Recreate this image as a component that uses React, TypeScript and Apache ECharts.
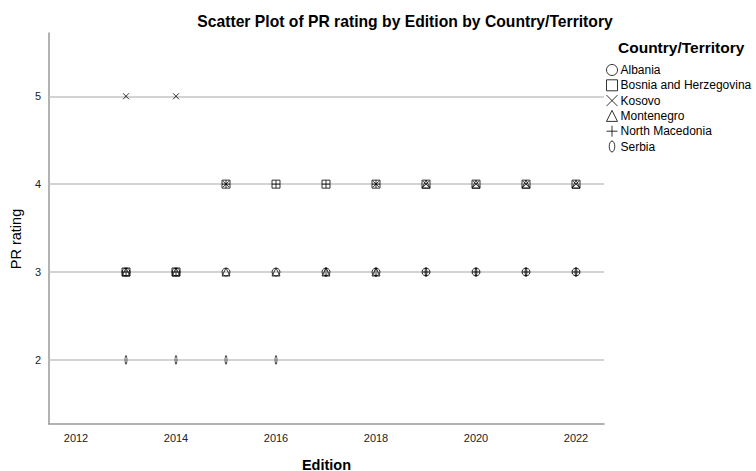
import React, { useEffect, useRef } from "react";
import * as echarts from "echarts";

const editions = [2013, 2014, 2015, 2016, 2017, 2018, 2019, 2020, 2021, 2022];
const albania = [3, 3, 3, 3, 3, 3, 3, 3, 3, 3];
const bosnia = [3, 3, 4, 4, 4, 4, 4, 4, 4, 4];
const kosovo = [5, 5, 4, null, null, 4, 4, 4, 4, 4];
const montenegro = [3, 3, 3, 3, 3, 3, 4, 4, 4, 4];
const northMacedonia = [3, 3, 4, 4, 4, 4, 3, 3, 3, 3];
const serbia = [2, 2, 2, 2, 3, 3, 3, 3, 3, 3];

const xTickLabels = [2012, 2014, 2016, 2018, 2020, 2022];
const yTickLabels = [2, 3, 4, 5];

const FONT = "Liberation Sans, Arial, sans-serif";

const pairs = (vals: (number | null)[]) =>
  editions.map((e, i) => [e, vals[i]]).filter((p) => p[1] !== null);

export default function App() {
  const ref = useRef<HTMLDivElement>(null);
  useEffect(() => {
    if (!ref.current) return;
    const chart = echarts.init(ref.current, null, { renderer: "svg" });
    const base = {
      type: "scatter",
      z: 5,
      symbolKeepAspect: true,
      itemStyle: { color: "rgba(0,0,0,0)", borderColor: "#000", borderWidth: 1 },
      emphasis: { disabled: true },
    };
    const seriesDefs = [
      { name: "Albania", data: albania, symbol: "circle", size: 8 },
      { name: "Bosnia and Herzegovina", data: bosnia, symbol: "rect", size: 8 },
      { name: "Kosovo", data: kosovo, symbol: "path://M0,0L10,10M10,0L0,10", size: 6 },
      { name: "Montenegro", data: montenegro, symbol: "triangle", size: 8 },
      { name: "North Macedonia", data: northMacedonia, symbol: "path://M5,0L5,10M0,5L10,5", size: 8 },
      {
        name: "Serbia",
        data: serbia,
        symbol: "path://M3,0A3,6 0 1,0 3,12A3,6 0 1,0 3,0Z",
        size: [4, 8],
      },
    ];
    const series: any[] = seriesDefs.map((s) => ({
      ...base,
      name: s.name,
      symbol: s.symbol,
      symbolSize: s.size,
      data: pairs(s.data),
    }));
    series.push({
      type: "scatter",
      name: "grid",
      data: [],
      silent: true,
      z: 1,
      markLine: {
        silent: true,
        symbol: "none",
        label: { show: false },
        lineStyle: { color: "#c4c4c4", width: 1.5, type: "solid" },
        data: yTickLabels.map((v) => ({ yAxis: v })),
      },
    });
    chart.setOption({
      animation: false,
      backgroundColor: "#fff",
      textStyle: { fontFamily: FONT },
      title: [
        {
          text: "Scatter Plot of PR rating by Edition by Country/Territory",
          left: 400,
          top: 8,
          textAlign: "center",
          textStyle: { fontFamily: FONT, fontSize: 15.7, fontWeight: "bold", color: "#000" },
        },
        {
          text: "Country/Territory",
          left: 613,
          top: 34,
          textStyle: { fontFamily: FONT, fontSize: 15.5, fontWeight: "bold", color: "#000" },
        },
      ],
      legend: {
        orient: "vertical",
        left: 601,
        top: 59,
        padding: [5, 5, 5, 5],
        itemWidth: 11,
        itemHeight: 11,
        itemGap: 3.3,
        itemStyle: { color: "rgba(0,0,0,0)", borderColor: "#000", borderWidth: 1 },
        textStyle: { fontFamily: FONT, fontSize: 12, color: "#000", padding: [0, 0, 0, -2] },
        data: seriesDefs.map((s) => s.name),
        selectedMode: false,
      },
      grid: { left: 49, top: 33, right: 152, bottom: 47, outerBoundsMode: "none" },
      xAxis: {
        type: "value",
        min: 2011.46,
        max: 2022.56,
        name: "Edition",
        nameLocation: "middle",
        nameGap: 33,
        nameTextStyle: { fontFamily: FONT, fontSize: 14.5, fontWeight: "bold", color: "#000" },
        axisLine: { show: true, lineStyle: { color: "#999", width: 1.5 } },
        axisTick: { show: false },
        splitLine: { show: false },
        axisLabel: {
          customValues: xTickLabels,
          formatter: (v: number) => String(v),
          fontFamily: FONT,
          fontSize: 11,
          color: "#222",
          margin: 8,
        },
      },
      yAxis: {
        type: "value",
        min: 1.27,
        max: 5.72,
        name: "PR rating",
        nameLocation: "middle",
        nameGap: 26,
        nameTextStyle: { fontFamily: FONT, fontSize: 14.5, color: "#000", padding: [0, 21, 0, 0] },
        axisLine: { show: true, lineStyle: { color: "#999", width: 1.5 } },
        axisTick: { show: false },
        splitLine: { show: false },
        axisLabel: {
          customValues: yTickLabels,
          fontFamily: FONT,
          fontSize: 11,
          color: "#222",
          margin: 8,
        },
      },
      series,
    });
    return () => chart.dispose();
  }, []);
  return (
    <div
      ref={ref}
      style={{ position: "fixed", left: 0, top: 0, width: 756, height: 471 }}
    />
  );
}
